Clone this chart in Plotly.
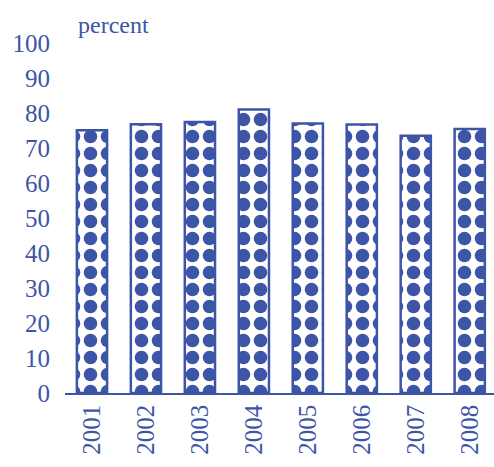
import plotly.graph_objects as go

years = ["2001", "2002", "2003", "2004", "2005", "2006", "2007", "2008"]
values = [75.1, 76.8, 77.4, 81.0, 77.0, 76.7, 73.5, 75.4]
y_ticks = [0, 10, 20, 30, 40, 50, 60, 70, 80, 90, 100]

BLUE = "#3D55A6"
FONT = "Liberation Serif"

fig = go.Figure(
    go.Bar(
        x=years,
        y=values,
        marker=dict(
            color="white",
            line=dict(color=BLUE, width=2.5),
            pattern=dict(shape=".", fgcolor=BLUE, bgcolor="white",
                         size=17, solidity=0.5, fillmode="replace"),
        ),
        width=0.56,
    )
)

fig.update_layout(
    width=494,
    height=467,
    margin=dict(l=65, r=0, t=43, b=74),
    paper_bgcolor="white",
    plot_bgcolor="white",
    showlegend=False,
    font=dict(family=FONT, size=25, color=BLUE),
    xaxis=dict(
        type="category",
        range=[-0.5, 7.45],
        tickangle=-90,
        showgrid=False,
        showline=True,
        linecolor=BLUE,
        linewidth=1.5,
        ticks="",
        tickfont=dict(family=FONT, size=25, color=BLUE),
    ),
    yaxis=dict(
        range=[0, 100],
        tickvals=y_ticks,
        ticktext=[str(v) for v in y_ticks],
        showgrid=False,
        showline=False,
        zeroline=False,
        ticks="",
        ticklabelstandoff=14,
        tickfont=dict(family=FONT, size=25, color=BLUE),
    ),
    annotations=[
        dict(text="percent", xref="paper", yref="paper", x=0.026, y=1.0,
             xanchor="left", yanchor="bottom", yshift=3, showarrow=False,
             font=dict(family=FONT, size=24, color=BLUE))
    ],
)

fig.write_html("out.html")
